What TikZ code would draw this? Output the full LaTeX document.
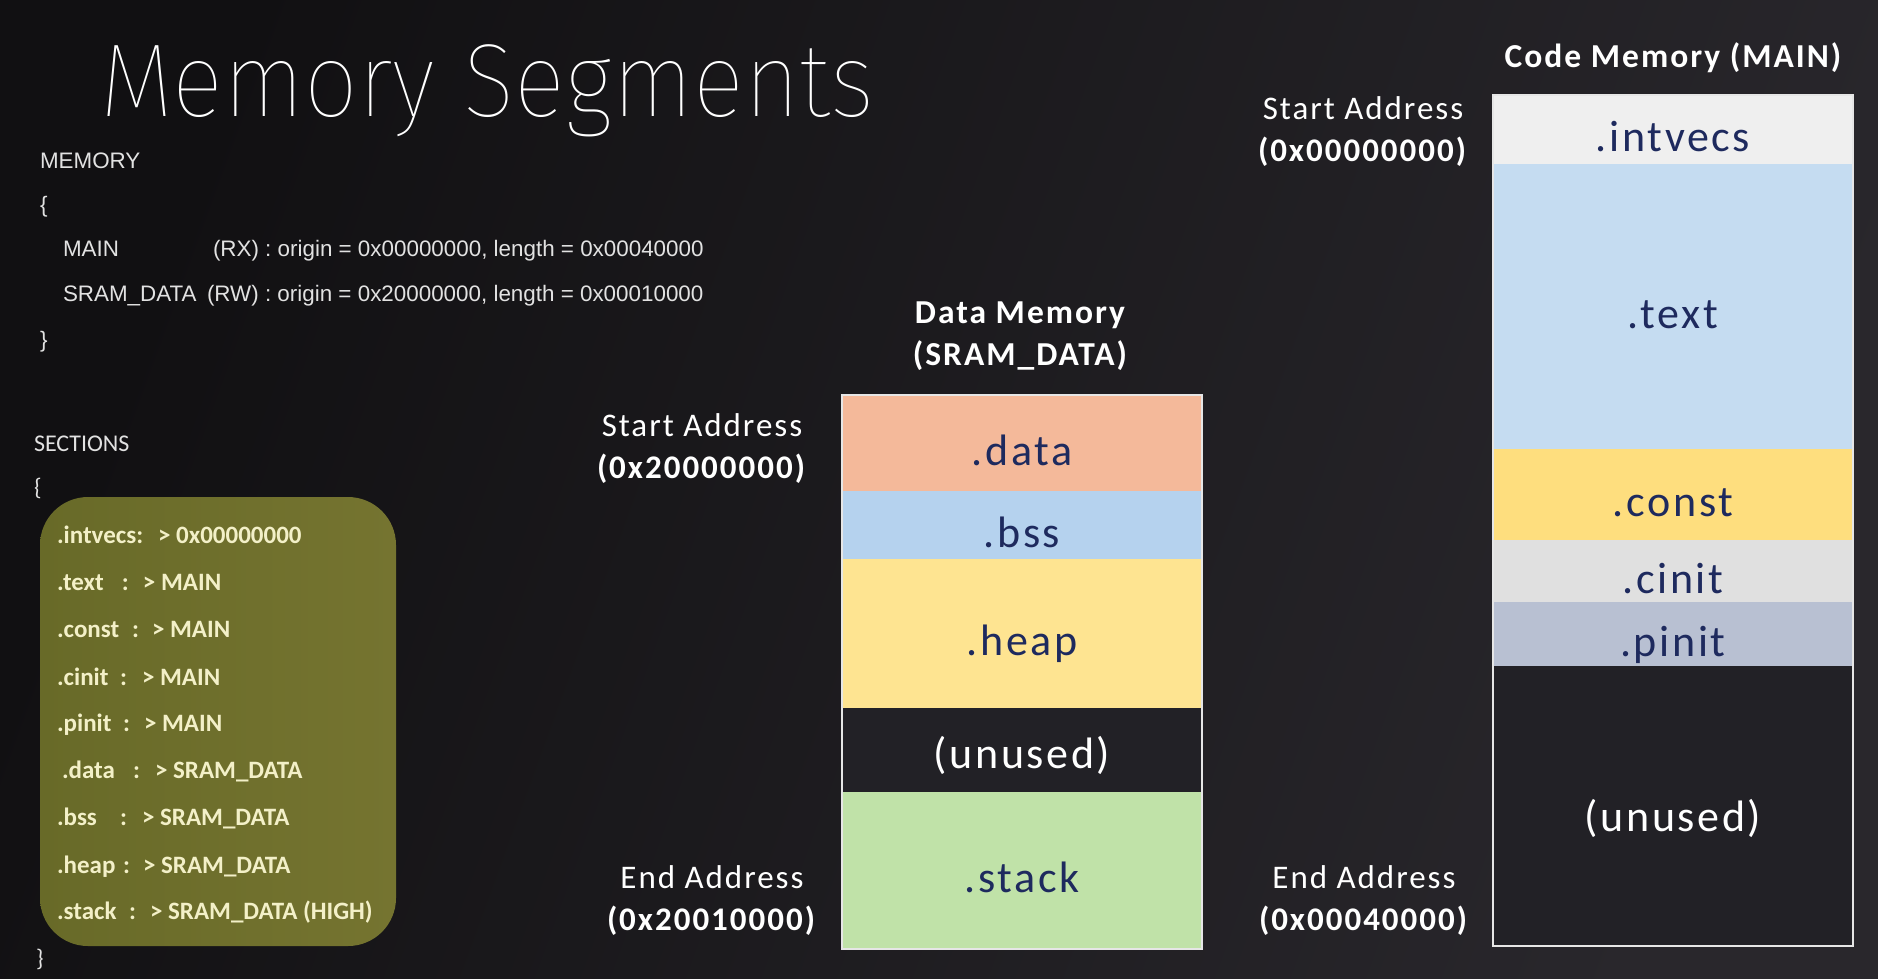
\documentclass[tikz,border=0pt]{standalone}
\usepackage{fontspec}
\setmainfont{Carlito}
\newfontfamily\helv{Liberation Sans}
\newfontfamily\thin{Fira Sans Thin}
\newfontfamily\wide{Carlito}[LetterSpace=6]
\usetikzlibrary{positioning}
\definecolor{bgdark}{HTML}{111012}
\definecolor{bgmid}{HTML}{35323A}
\definecolor{bgright}{HTML}{29272C}
\definecolor{oliveL}{HTML}{686A28}
\definecolor{oliveR}{HTML}{757430}
\definecolor{cream}{HTML}{F3F0C8}
\definecolor{txtgray}{HTML}{E2E2E2}
\definecolor{navy}{HTML}{1E2A5E}
\definecolor{framegray}{HTML}{E6E6E6}
\definecolor{cdata}{HTML}{F4B99A}
\definecolor{cbss}{HTML}{B5D2EE}
\definecolor{cheap}{HTML}{FEE491}
\definecolor{cfree}{HTML}{222126}
\definecolor{cstack}{HTML}{C0E2A8}
\definecolor{cvec}{HTML}{EFEFEF}
\definecolor{ctext}{HTML}{C5DCF1}
\definecolor{cconst}{HTML}{FEDE7E}
\definecolor{ccinit}{HTML}{E0E0E0}
\definecolor{cpinit}{HTML}{B8C0D2}
\newcommand{\seccell}[2]{\makebox[#1pt][l]{#2}}
\tikzset{every node/.style={inner sep=0pt, outer sep=0pt},
  seg/.style={minimum width=360pt, text=navy, text height=44pt, text depth=0pt, font=\wide\fontsize{44}{50}\selectfont},
  addr/.style={align=center, text=white, font=\wide\fontsize{33}{42}\selectfont},
  head/.style={align=center, text=white, font=\wide\bfseries\fontsize{33.5}{42}\selectfont},
  code/.style={anchor=base west, text=txtgray, font=\helv\fontsize{22.4}{26}\selectfont},
  secline/.style={anchor=base west, text=cream, font=\bfseries\fontsize{25}{28}\selectfont},
  frame/.style={draw=framegray, line width=2pt}}

\begin{document}
\begin{tikzpicture}[x=1pt,y=-1pt]
  \useasboundingbox (0,0) rectangle (1878,978);
  \shade[left color=bgdark, middle color=bgmid, right color=bgright, shading angle=70] (0,0) rectangle (1878,978);

  \node[anchor=base west, text=white, font=\thin\fontsize{104}{114}\selectfont] (title) at (100,116) {\scalebox{0.92}[1]{Memory Segments}};

  \node[code] (mem) at (40,168) {MEMORY};
  \node[code] (mopen) at (40,212) {\{};
  \node[code] (mmain) at (63,256) {MAIN};
  \node[code] (mmainv) at (213,256) {(RX) : origin = 0x00000000, length = 0x00040000};
  \node[code] (msram) at (63,301) {SRAM\_DATA};
  \node[code] (msramv) at (207,301) {(RW) : origin = 0x20000000, length = 0x00010000};
  \node[code] (mclose) at (40,347) {\}};

  \node[code, font=\fontsize{24}{28}\selectfont] (sechead) at (34,451) {SECTIONS};
  \node[code, font=\fontsize{24}{28}\selectfont] (sopen) at (34,495) {\{};
  \shade[left color=oliveL, right color=oliveR, rounded corners=48pt] (40,497) rectangle (396,946);
  \foreach \n/\y/\entry in {
      1/543/{\seccell{101}{.intvecs:}> 0x00000000},
      2/590/{\seccell{65}{.text}\seccell{21}{:}> MAIN},
      3/637/{\seccell{75}{.const}\seccell{20}{:}> MAIN},
      4/685/{\seccell{63}{.cinit}\seccell{22}{:}> MAIN},
      5/731/{\seccell{66}{.pinit}\seccell{21}{:}> MAIN},
      6/778/{\seccell{76}{\hspace{5pt}.data}\seccell{22}{:}> SRAM\_DATA},
      7/825/{\seccell{63}{.bss}\seccell{22}{:}> SRAM\_DATA},
      8/873/{\seccell{66}{.heap}\seccell{20}{:}> SRAM\_DATA},
      9/919/{\seccell{72}{.stack}\seccell{21}{:}> SRAM\_DATA (HIGH)}}
    \node[secline] (sec\n) at (57,\y) {\entry};
  \node[code, font=\fontsize{24}{28}\selectfont] (sclose) at (36,966) {\}};

  \node[head] (dtitle) at (1020,336) {Data Memory\\(SRAM\_DATA)};
  \node[addr] (dstart) at (702,449) {Start Address\\\textbf{(0x20000000)}};
  \node[addr] (dend) at (712,901) {End Address\\\textbf{(0x20010000)}};
  \node[seg, fill=cdata, minimum height=96pt] (data) at (1022,443) {.data};
  \node[seg, fill=cbss, minimum height=68pt, below=0pt of data] (bss) {.bss};
  \node[seg, fill=cheap, minimum height=149pt, below=0pt of bss] (heap) {.heap};
  \node[seg, fill=cfree, text=white, minimum height=84pt, below=0pt of heap] (dfree) {\raisebox{4pt}{(unused)}};
  \node[seg, fill=cstack, minimum height=157pt, below=0pt of dfree] (stack) {.stack};
  \draw[frame] (data.north west) rectangle (stack.south east);

  \node[head] (ctitle) at (1673,58) {Code Memory (MAIN)};
  \node[addr] (cstart) at (1363,132) {Start Address\\\textbf{(0x00000000)}};
  \node[addr] (cend) at (1364,901) {End Address\\\textbf{(0x00040000)}};
  \node[seg, fill=cvec, minimum height=69pt] (vecs) at (1673,129.5) {.intvecs};
  \node[seg, fill=ctext, minimum height=285pt, below=0pt of vecs] (txt) {.text};
  \node[seg, fill=cconst, minimum height=91pt, below=0pt of txt] (const) {.const};
  \node[seg, fill=ccinit, minimum height=62pt, below=0pt of const] (cinit) {.cinit};
  \node[seg, fill=cpinit, minimum height=64pt, below=0pt of cinit] (pinit) {.pinit};
  \node[seg, fill=cfree, text=white, minimum height=280pt, below=0pt of pinit] (cfree) {\raisebox{-3pt}{(unused)}};
  \draw[frame] (vecs.north west) rectangle (cfree.south east);
\end{tikzpicture}
\end{document}
